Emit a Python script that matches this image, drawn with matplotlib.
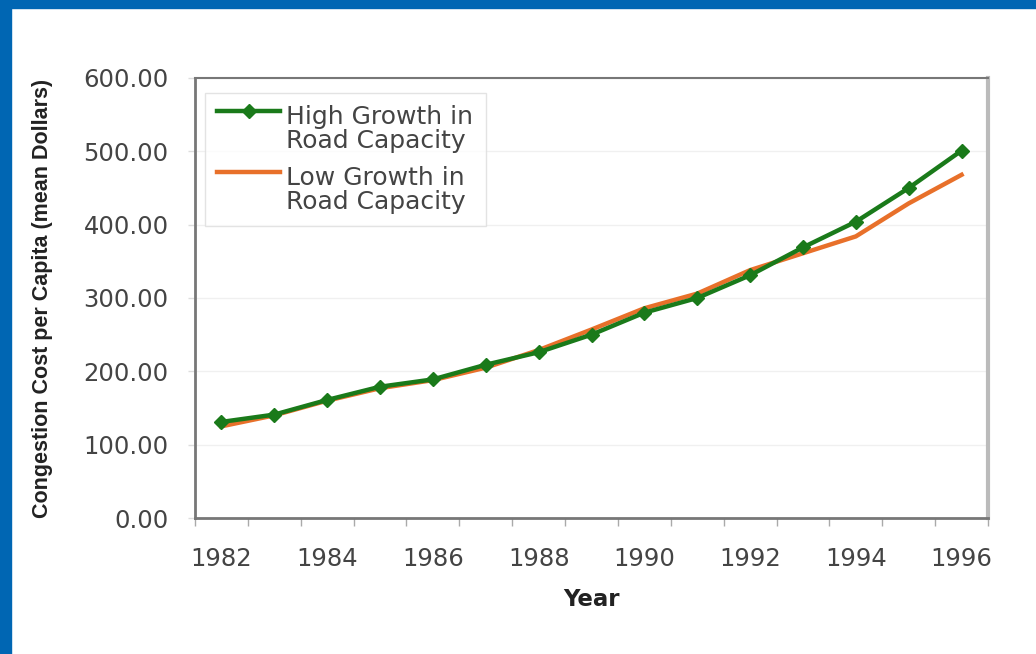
import matplotlib
matplotlib.use("Agg")
import matplotlib.pyplot as plt
from matplotlib.ticker import FormatStrFormatter
from matplotlib.legend_handler import HandlerLine2D

# Congestion cost per capita, 1982-1996
years = list(range(1982, 1997))
high_growth = [131, 141, 161, 179, 189, 209, 226, 250, 280, 300, 331, 369, 404, 450, 501]
low_growth = [125, 140, 160, 177, 188, 205, 229, 257, 286, 306, 338, 361, 384, 429, 468]
year_labels = [str(y) if y % 2 == 0 else "" for y in years]

green = "#1a7a1a"
orange = "#e8702a"
txt = "#444444"


# legend handle aligned with the first text line instead of centred
class TopLineHandler(HandlerLine2D):
    def create_artists(self, legend, orig_handle, xdescent, ydescent, width, height,
                       fontsize, trans):
        arts = super().create_artists(legend, orig_handle, xdescent, ydescent, width,
                                      height, fontsize, trans)
        for a in arts:
            a.set_ydata([y + 0.75 * fontsize for y in a.get_ydata()])
        return arts


fig = plt.figure(figsize=(10.36, 6.54), dpi=100)
fig.patch.set_facecolor("white")

# blue slide border (top and left)
fig.add_artist(plt.Rectangle((0, 1 - 8 / 654), 1, 8 / 654, transform=fig.transFigure,
                             color="#0066b3", zorder=0))
fig.add_artist(plt.Rectangle((0, 0), 11 / 1036, 1, transform=fig.transFigure,
                             color="#0066b3", zorder=0))

ax = fig.add_axes([195 / 1036, 1 - 518 / 654, 793 / 1036, 440 / 654])
x = list(range(len(years)))
ax.plot(x, high_growth, color=green, lw=3.2, marker="D", ms=7.5, zorder=3,
        label="High Growth in\nRoad Capacity")
ax.plot(x, low_growth, color=orange, lw=3.2, zorder=2,
        label="Low Growth in\nRoad Capacity")

ax.set_xlim(-0.5, len(years) - 0.5)
ax.set_ylim(0, 600)
ax.set_yticks(range(0, 601, 100))
ax.yaxis.set_major_formatter(FormatStrFormatter("%.2f"))
ax.set_xticks(x)
ax.set_xticklabels(year_labels)
ax.set_xticks([i - 0.5 for i in range(len(years) + 1)], minor=True)
ax.tick_params(axis="x", which="major", length=0, pad=21, labelsize=17.5, labelcolor=txt)
ax.tick_params(axis="x", which="minor", length=6, width=1, color="#aaaaaa", direction="out")
ax.tick_params(axis="y", length=5, width=1, color="#dddddd", pad=14, labelsize=17.5,
               labelcolor=txt)
ax.grid(axis="y", color="#f0f0f0", lw=1)
ax.set_axisbelow(True)

for s in ["left", "bottom"]:
    ax.spines[s].set_color("#777777")
    ax.spines[s].set_linewidth(2)
ax.spines["top"].set_color("#777777")
ax.spines["top"].set_linewidth(1.5)
ax.spines["right"].set_color("#bbbbbb")
ax.spines["right"].set_linewidth(3)

ax.set_xlabel("Year", fontsize=16.5, fontweight="bold", color="#222222", labelpad=12)
ax.set_ylabel("Congestion Cost per Capita (mean Dollars)", fontsize=15.5, fontweight="bold",
              color="#222222", family="Liberation Sans", labelpad=22)

leg = ax.legend(loc="upper left", bbox_to_anchor=(0.0126, 0.966), borderaxespad=0,
                fontsize=18, frameon=True, fancybox=False, edgecolor="#dddddd",
                handlelength=2.5, handletextpad=0.25, borderpad=0.5, labelspacing=0.5,
                handler_map={plt.Line2D: TopLineHandler()})
leg.get_frame().set_linewidth(1)
for t in leg.get_texts():
    t.set_color(txt)
    t.set_linespacing(1.0)

fig.savefig("out.png", dpi=100, facecolor="white")
